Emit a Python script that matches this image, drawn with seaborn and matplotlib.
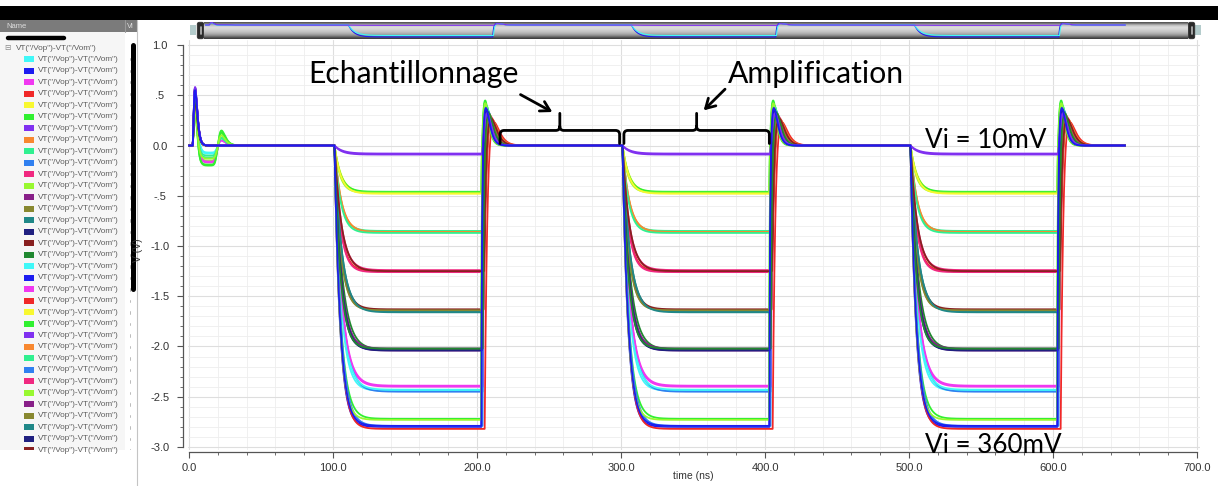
import numpy as np
import pandas as pd
import matplotlib
matplotlib.use("Agg")
import matplotlib.pyplot as plt
from matplotlib.patches import Rectangle, FancyBboxPatch, PathPatch
from matplotlib.path import Path
from matplotlib.ticker import MultipleLocator, FuncFormatter
import seaborn as sns

# ---------------------------------------------------------------- data ----
SIGNAL_NAME = 'VT("/Vop")-VT("/Vom")'
N_TRACES = 36                     # Vi sweep, 10 mV .. 360 mV
CYCLE_STARTS = [100.0, 300.0, 500.0]   # start of each amplification phase (ns)
T_END = 650.0                     # end of transient (ns)
FALL_ONSET = 1.0                  # delay before the output starts to fall (ns)

# settled output during amplification (V), per trace
settled_level = [-2.44, -2.79, -2.40, -1.25, -0.47, -0.46, -0.08, -0.86, -0.85,
                 -2.45, -1.26, -0.47, -2.04, -1.64, -1.65, -2.03, -1.63, -2.03,
                 -2.43, -2.80, -2.39, -2.82, -0.48, -2.72, -0.09, -0.86, -0.87,
                 -2.79, -1.24, -2.73, -2.02, -1.64, -1.66, -2.04, -1.25, -2.02]
# settling time constant of the falling edge (ns)
fall_tau = [4.5, 4.0, 5.0, 4.2, 4.8, 4.4, 5.5, 4.6, 4.3, 5.2, 4.1, 3.9,
            4.7, 4.4, 5.0, 4.2, 4.6, 5.3, 4.9, 3.8, 5.1, 4.0, 4.5, 4.3,
            5.0, 4.7, 4.2, 4.4, 4.8, 3.7, 4.6, 4.3, 5.1, 4.5, 4.9, 4.1]
# end of the amplification phase, relative to its start (ns)
rise_at = [103.5, 103.0, 104.0, 105.0, 103.2, 102.8, 103.6, 104.8, 103.4,
           103.8, 104.5, 102.9, 103.7, 104.2, 103.3, 103.1, 104.6, 103.9,
           103.5, 103.0, 104.1, 105.3, 103.2, 102.7, 103.6, 104.9, 103.4,
           103.8, 104.4, 102.8, 103.7, 104.3, 103.5, 103.2, 104.7, 103.9]
# time constant of the reset edge (ns)
rise_tau = [0.6, 0.5, 0.7, 1.4, 0.6, 0.5, 0.6, 1.5, 0.6, 0.7, 1.2, 0.5,
            0.8, 0.9, 0.6, 0.6, 1.3, 0.8, 0.6, 0.5, 0.7, 1.6, 0.6, 0.5,
            0.6, 1.5, 0.7, 0.7, 1.1, 0.5, 0.8, 0.9, 0.6, 0.6, 1.3, 0.8]
# overshoot after reset: peak (V) and time to peak (ns)
overshoot_peak = [0.36, 0.38, 0.34, 0.30, 0.40, 0.45, 0.32, 0.30, 0.40, 0.36, 0.32, 0.42,
                  0.30, 0.33, 0.35, 0.37, 0.30, 0.34, 0.36, 0.38, 0.33, 0.31, 0.39, 0.44,
                  0.32, 0.29, 0.40, 0.35, 0.31, 0.43, 0.30, 0.33, 0.35, 0.37, 0.30, 0.34]
overshoot_width = [3.2, 3.0, 3.4, 4.5, 3.0, 2.8, 3.3, 4.6, 3.1, 3.5, 4.2, 2.8,
                   3.6, 3.8, 3.2, 3.1, 4.4, 3.7, 3.2, 3.0, 3.4, 4.8, 3.0, 2.7,
                   3.3, 4.6, 3.1, 3.5, 4.1, 2.8, 3.6, 3.8, 3.2, 3.1, 4.4, 3.7]
# power-up transient: first spike, negative shelf, second bump (V)
spike_peak = [0.50, 0.55, 0.48, 0.45, 0.40, 0.35, 0.58, 0.42, 0.38, 0.52, 0.47, 0.36,
              0.56, 0.44, 0.50, 0.57, 0.46, 0.49, 0.51, 0.55, 0.47, 0.44, 0.39, 0.33,
              0.58, 0.41, 0.37, 0.53, 0.46, 0.34, 0.55, 0.45, 0.50, 0.57, 0.45, 0.49]
shelf_depth = [-0.08, 0.0, -0.17, 0.0, 0.0, -0.20, 0.0, 0.0, -0.12, 0.0, 0.0, -0.15,
               0.0, 0.0, 0.0, 0.0, 0.0, 0.0, -0.07, 0.0, -0.16, 0.0, 0.0, -0.19,
               0.0, 0.0, -0.10, 0.0, 0.0, -0.13, 0.0, 0.0, 0.0, 0.0, 0.0, 0.0]
bump_peak = [0.0, 0.0, 0.05, 0.0, 0.0, 0.15, 0.0, 0.0, 0.08, 0.0, 0.0, 0.12,
             0.0, 0.0, 0.0, 0.0, 0.0, 0.0, 0.0, 0.0, 0.05, 0.0, 0.0, 0.13,
             0.0, 0.0, 0.07, 0.0, 0.0, 0.10, 0.0, 0.0, 0.0, 0.0, 0.0, 0.0]

x_ticks = [0, 100, 200, 300, 400, 500, 600, 700]
y_ticks = [-3.0, -2.5, -2.0, -1.5, -1.0, -0.5, 0.0, 0.5, 1.0]

phase_labels = ["Echantillonnage", "Amplification"]
phase_spans = [(216.0, 299.0), (302.0, 403.0)]     # ns
level_labels = ["Vi = 10mV", "Vi = 360mV"]

# Waveform-viewer colour cycle
PALETTE = ["#40f8f8", "#1c1cf0", "#f038f0", "#f02828", "#f8f830", "#30f030",
           "#8030f0", "#f88830", "#30f090", "#3080f0", "#f02880", "#98f830",
           "#882088", "#888830", "#208888", "#202080", "#882020", "#208830"]
trace_ids = [f"T{k:02d}" for k in range(N_TRACES)]
color_map = {tid: PALETTE[k % len(PALETTE)] for k, tid in enumerate(trace_ids)}
draw_last = [6, 24, 1]
draw_order = [trace_ids[k] for k in range(N_TRACES) if k not in draw_last] + \
             [trace_ids[k] for k in draw_last]


# ------------------------------------------------------------ waveforms ----
def pulse(t, t0, width, peak):
    x = np.clip((t - t0) / width, 0, None)
    return peak * x ** 2 * np.exp(2 * (1 - x))


def sig(z):
    return 1.0 / (1.0 + np.exp(-z))


def waveform(t, k):
    v = pulse(t, 2.5, 1.7, spike_peak[k])
    v += shelf_depth[k] * sig((t - 6.0) / 0.6) * (1 - sig((t - 19.0) / 0.6))
    v += pulse(t, 19.5, 3.0, bump_peak[k])
    for c in CYCLE_STARTS:
        t0 = c + FALL_ONSET
        tr = c + rise_at[k]
        fall = settled_level[k] * (1 - np.exp(-(np.clip(t, t0, None) - t0) / fall_tau[k]))
        vr = settled_level[k] * (1 - np.exp(-(tr - t0) / fall_tau[k]))
        after = vr * np.exp(-(np.clip(t, tr, None) - tr) / rise_tau[k])
        v += np.where(t < t0, 0.0, np.where(t < tr, fall, after))
        v += pulse(t, tr, overshoot_width[k], overshoot_peak[k])
    return v


time = np.arange(0.0, T_END + 0.05, 0.1)
frames = []
for k, tid in enumerate(trace_ids):
    frames.append(pd.DataFrame({"time": time, "V": waveform(time, k), "trace": tid}))
df = pd.concat(frames, ignore_index=True)

# -------------------------------------------------------------- figure ----
sns.set_theme(style="ticks")
plt.rcParams["font.family"] = ["Liberation Sans", "DejaVu Sans"]

W, H = 1218, 486
fig = plt.figure(figsize=(W / 100, H / 100), dpi=100)
fig.patch.set_facecolor("white")

# window chrome in pixel coordinates
bg = fig.add_axes([0, 0, 1, 1], zorder=0)
bg.set_xlim(0, W)
bg.set_ylim(H, 0)
bg.axis("off")

bg.add_patch(Rectangle((0, 6), W, 14, color="black", lw=0))
bg.add_patch(Rectangle((0, 20), 137, 12, color="#7b7b7b", lw=0))
bg.add_patch(Rectangle((0, 32), 125, 418, color="#f6f6f6", lw=0))
bg.plot([125, 125], [20, 32], color="#9a9a9a", lw=0.8)
bg.text(6, 26.5, "Name", fontsize=5.5, color="#dedede", va="center")
bg.text(127, 26.5, "Vi", fontsize=5.5, color="#dedede", va="center")
bg.plot([8, 64], [38.5, 38.5], color="black", lw=3.2, solid_capstyle="round")
bg.plot([133, 133], [45, 289], color="black", lw=3.6, solid_capstyle="round")
bg.plot([137, 137], [20, H], color="#c4c4c4", lw=0.8)

bg.text(4, 48, "\u229f", fontsize=5.5, color="#8a8a8a", va="center",
        family=["DejaVu Sans"])
bg.text(16, 48, SIGNAL_NAME, fontsize=5.9, color="#5c5c5c", va="center")

clip = Rectangle((0, 32), 137, 418, transform=bg.transData)
for i in range(35):
    y = 59.3 + 11.5 * i
    sw = bg.add_patch(Rectangle((24, y - 3), 10, 6,
                                color=PALETTE[i % len(PALETTE)], lw=0))
    tx = bg.text(38, y, SIGNAL_NAME, fontsize=5.9, color="#5c5c5c", va="center")
    mk = bg.plot([130, 130], [y - 1.2, y + 1.2], color="#b0b0b0", lw=0.6)[0]
    for a in (sw, tx, mk):
        a.set_clip_path(clip)

# overview strip at the top
strip_l, strip_r, strip_t, strip_b = 204, 1188, 22, 39
for x0 in (190, 1195):
    bg.add_patch(Rectangle((x0, 25), 6, 10, color="#b4cccc", lw=0))
for x0 in (197, 1188):
    bg.add_patch(FancyBboxPatch((x0 + 1, strip_t + 1), 5, 15,
                                boxstyle="round,pad=0.8,rounding_size=2",
                                fc="#2a2a2a", ec="#2a2a2a", lw=0.5))
    bg.plot([x0 + 3.5, x0 + 3.5], [27, 34], color="#b8b8b8", lw=1.2)

strip = fig.add_axes([strip_l / W, 1 - strip_b / H,
                      (strip_r - strip_l) / W, (strip_b - strip_t) / H], zorder=1)
shade = np.array([0.35, 0.62, 0.80, 0.86, 0.84, 0.80, 0.75, 0.68, 0.58, 0.42, 0.25])[:, None]
strip.imshow(shade, cmap="gray", vmin=0, vmax=1, aspect="auto",
             extent=[0, 1, 0, 1], transform=strip.transAxes, interpolation="bilinear")
sub = df[df["trace"].isin([trace_ids[0], trace_ids[6], trace_ids[1]])]
sns.lineplot(data=sub, x="time", y="V", hue="trace", palette=color_map,
             hue_order=[trace_ids[1], trace_ids[0], trace_ids[6]],
             estimator=None, sort=False, legend=False, lw=0.8, ax=strip)
strip.set_xlim(-1.06, 694.3)
strip.set_ylim(-3.26, 0.70)
strip.set_axis_off()

# main plot
ax = fig.add_axes([187.6 / W, (H - 450) / H, (1199.9 - 187.6) / W, 410 / H], zorder=2)
ax.set_facecolor("white")
sns.lineplot(data=df, x="time", y="V", hue="trace", hue_order=draw_order,
             palette=color_map, estimator=None, sort=False, legend=False,
             lw=1.3, ax=ax)
ax.set_xlim(-1, 702)
ax.set_ylim(-3.03, 1.05)
ax.set_xticks(x_ticks)
ax.set_yticks(y_ticks)
ax.xaxis.set_minor_locator(MultipleLocator(20))
ax.yaxis.set_minor_locator(MultipleLocator(0.1))


def y_fmt(v, _):
    s = f"{v:.1f}"
    if s.startswith("0.") and s != "0.0":
        s = s[1:]
    elif s.startswith("-0."):
        s = "-" + s[2:]
    return s


ax.yaxis.set_major_formatter(FuncFormatter(y_fmt))
ax.xaxis.set_major_formatter(FuncFormatter(lambda v, _: f"{v:.1f}"))
ax.set_axisbelow(True)
ax.grid(which="major", color="#dedede", lw=0.8)
ax.grid(which="minor", color="#eeeeee", lw=0.6)
ax.tick_params(which="major", direction="out", length=4, width=0.8,
               color="#555555", labelsize=8, labelcolor="#333333")
ax.tick_params(which="minor", direction="out", length=2.2, width=0.6, color="#555555")
ax.tick_params(axis="y", which="major", pad=12.6)
ax.tick_params(axis="x", which="major", pad=3.5)
sns.despine(ax=ax, offset={"left": 3.3, "bottom": 1.5}, trim=True)
for side in ("left", "bottom"):
    ax.spines[side].set_color("#555555")
    ax.spines[side].set_linewidth(0.9)
plt.setp(ax.get_yticklabels(), ha="center")

ax.set_xlabel("time (ns)", fontsize=7.5, color="#333333")
ax.set_ylabel("V (V)", fontsize=7.5, color="#333333")
ax.xaxis.set_label_coords(0.5, -0.051)
ax.yaxis.set_label_coords(-0.044, 0.488)

# phase annotations
ANN = dict(family=["Lato", "DejaVu Sans"], color="black")
ax.text(82.6, 0.627, phase_labels[0], fontsize=21.7, ha="left", va="baseline", **ANN)
ax.text(374.3, 0.627, phase_labels[1], fontsize=21.7, ha="left", va="baseline", **ANN)
ax.text(511.0, -0.02, level_labels[0], fontsize=18.7, ha="left", va="baseline", **ANN)
ax.text(511.0, -3.055, level_labels[1], fontsize=18.7, ha="left", va="baseline",
        clip_on=False, **ANN)


def brace(x0, x1, y_end, y_bar, y_tip, rx=2.8, ry=0.04):
    xm = 0.5 * (x0 + x1)
    verts = [(x0, y_end), (x0, y_bar - ry), (x0, y_bar), (x0 + rx, y_bar),
             (xm - rx, y_bar), (xm, y_bar), (xm, y_bar + ry), (xm, y_tip),
             (xm, y_bar + ry), (xm, y_bar), (xm + rx, y_bar),
             (x1 - rx, y_bar), (x1, y_bar), (x1, y_bar - ry), (x1, y_end)]
    codes = [Path.MOVETO, Path.LINETO, Path.CURVE3, Path.CURVE3,
             Path.LINETO, Path.CURVE3, Path.CURVE3, Path.LINETO,
             Path.MOVETO, Path.CURVE3, Path.CURVE3,
             Path.LINETO, Path.CURVE3, Path.CURVE3, Path.LINETO]
    return PathPatch(Path(verts, codes), fc="none", ec="black", lw=2.0,
                     capstyle="round", joinstyle="round", zorder=5)


for (x0, x1) in phase_spans:
    ax.add_patch(brace(x0, x1, 0.02, 0.15, 0.32))

arrow = dict(arrowstyle="->,head_length=0.55,head_width=0.32", color="black", lw=2.0)
ax.annotate("", xy=(254.0, 0.32), xytext=(228.5, 0.52), arrowprops=arrow)
ax.annotate("", xy=(356.0, 0.33), xytext=(373.6, 0.58), arrowprops=arrow)

fig.savefig("out.png", dpi=100)
